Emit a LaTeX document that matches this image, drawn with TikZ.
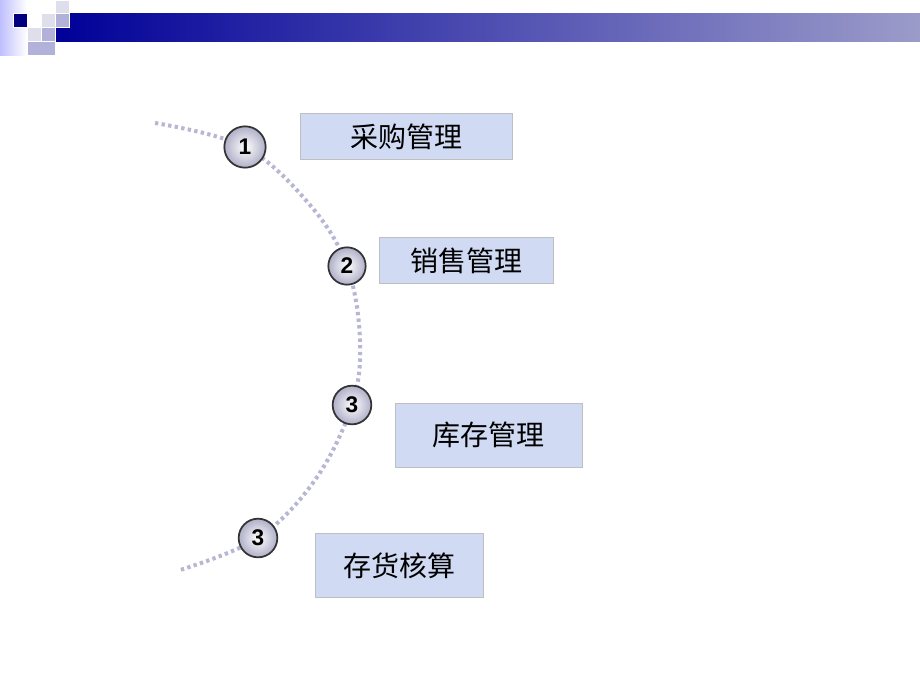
\documentclass[tikz,border=0pt]{standalone}
\usepackage{fontspec}
\setmainfont{Liberation Sans}
\newfontfamily\cjk{Noto Sans CJK SC}
\definecolor{boxc}{RGB}{208,218,242}
\definecolor{ballc}{RGB}{175,175,200}
\begin{document}
\begin{tikzpicture}[x=0.75pt,y=-0.75pt,
  sq/.style={draw=white,line width=0.6pt},
  numc/.style={circle,minimum size=31pt,inner sep=0pt,draw=black!80,line width=1.3pt,
    inner color=white,outer color=ballc,font=\bfseries\fontsize{17}{17}\selectfont},
  tbox/.style={draw=gray!50,line width=0.5pt,fill=boxc,anchor=north west,font=\cjk\fontsize{21}{21}\selectfont,inner sep=0pt}]
\useasboundingbox (0,0) rectangle (920,690);
\fill[white] (0,0) rectangle (920,690);
\shade[left color=blue!25!white,right color=white] (0,0) rectangle (27,55);
\shade[left color=blue!60!black,right color=blue!30!gray!60] (55,13) rectangle (920,41);
\fill[blue!25!gray!20,sq] (55,0) rectangle (69,13);
\fill[blue!50!black,sq] (13,13) rectangle (27,27);
\fill[blue!25!gray!20,sq] (41,13) rectangle (55,27);
\fill[blue!35!gray!45,sq] (55,13) rectangle (69,27);
\fill[blue!25!gray!20,sq] (27,27) rectangle (41,41);
\fill[blue!35!gray!45,sq] (41,27) rectangle (55,41);
\fill[blue!35!gray!45,sq] (27,41) rectangle (55,55);
\draw[blue!25!gray!45,line width=3pt,dash pattern=on 2.5pt off 2.5pt]
  plot[smooth,tension=0.6] coordinates {(155,123) (245,147) (310,205) (347,266) (360,340) (352,405) (315,480) (258,538) (180,570)};
\node[numc] (c1) at (245,147) {1};
\node[numc,minimum size=28pt] (c2) at (347,266) {2};
\node[numc,minimum size=29pt] (c3) at (352,405) {3};
\node[numc,minimum size=29pt] (c4) at (258,538) {3};
\node[tbox,minimum width=159pt,minimum height=34.5pt] (b1) at (300,113) {采购管理};
\node[tbox,minimum width=130.5pt,minimum height=34.5pt] (b2) at (379,237) {销售管理};
\node[tbox,minimum width=140pt,minimum height=48pt] (b3) at (395,403) {库存管理};
\node[tbox,minimum width=126pt,minimum height=48pt] (b4) at (315,533) {存货核算};
\end{tikzpicture}
\end{document}
